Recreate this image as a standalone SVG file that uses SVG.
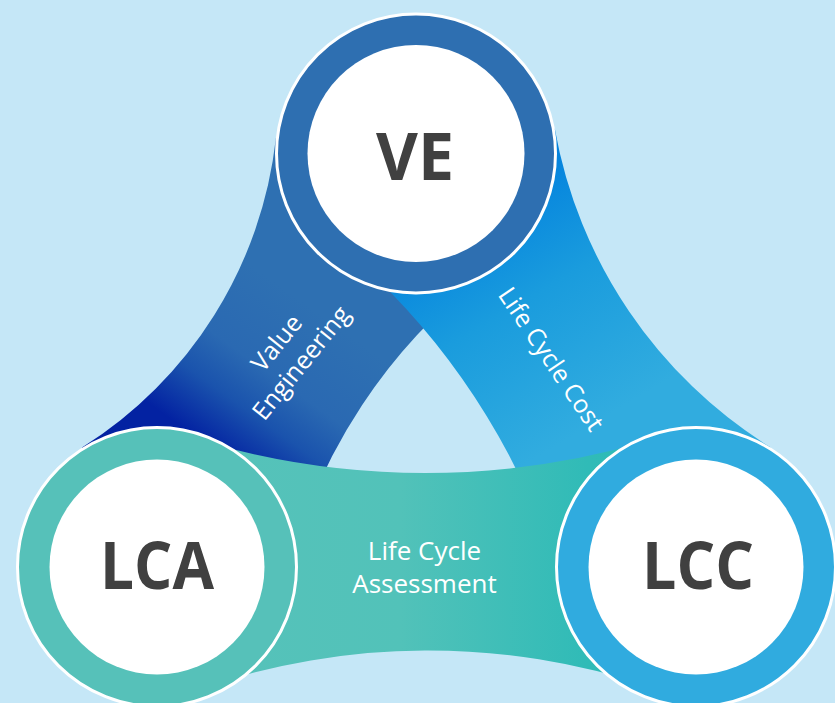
<svg xmlns="http://www.w3.org/2000/svg" width="835" height="703" viewBox="0 0 835 703">
  <defs>
    <!-- band fills -->
    <linearGradient id="grad-ve-lca" gradientUnits="userSpaceOnUse" x1="300" y1="300" x2="200" y2="440">
      <stop offset="0" stop-color="#2e70b2"/>
      <stop offset="0.45" stop-color="#2a69b2"/>
      <stop offset="0.7" stop-color="#1a53ad"/>
      <stop offset="1" stop-color="#0322a2"/>
    </linearGradient>
    <linearGradient id="grad-ve-lcc" gradientUnits="userSpaceOnUse" x1="470" y1="200" x2="600" y2="420">
      <stop offset="0" stop-color="#0382de"/>
      <stop offset="0.45" stop-color="#1a9cdd"/>
      <stop offset="1" stop-color="#31acdf"/>
    </linearGradient>
    <linearGradient id="grad-lca-lcc" gradientUnits="userSpaceOnUse" x1="157" y1="0" x2="696" y2="0">
      <stop offset="0" stop-color="#57c2ba"/>
      <stop offset="0.45" stop-color="#52c2b9"/>
      <stop offset="0.8" stop-color="#30bbb7"/>
      <stop offset="1" stop-color="#2db9b6"/>
    </linearGradient>
    <style>
      .ring { stroke: #ffffff; stroke-width: 3; }
      .core { fill: #ffffff; }
      .node-label { font-family: "Open Sans", "Noto Sans", "Liberation Sans", sans-serif; font-weight: 700; font-size: 67px; fill: #404040; text-anchor: middle; }
      .band-label { font-family: "Open Sans", "Noto Sans", "Liberation Sans", sans-serif; font-weight: 400; font-size: 25px; fill: #ffffff; text-anchor: middle; }
    </style>
  </defs>

  <rect x="0" y="0" width="835" height="703" fill="#c5e7f7"/>

  <!-- connecting bands between the three circles -->
  <g id="connectors">
    <g id="band-ve-lca">
      <path d="M 275.9 138.1 A 420 420 0 0 1 82 447.6 L 157 567 L 289.4 566.6 A 550 550 0 0 1 482.1 275.3 L 416 153.5 Z" fill="url(#grad-ve-lca)"/>
      <g transform="translate(289.5 353.5) rotate(-51)">
        <text class="band-label" x="0" y="-8">Value</text>
        <text class="band-label" x="0" y="23.5">Engineering</text>
      </g>
    </g>
    <g id="band-ve-lcc">
      <path d="M 554.8 128.8 A 473 473 0 0 0 770.5 447.3 L 696 567 L 560.1 579 A 709 709 0 0 0 374.7 276.5 L 416 153.5 Z" fill="url(#grad-ve-lcc)"/>
      <text class="band-label" transform="translate(544 364) rotate(56)" x="0" y="0">Life Cycle Cost</text>
    </g>
    <g id="band-lca-lcc">
      <path d="M 200 440.3 A 790 790 0 0 0 650 440.3 L 696 567 L 650 686.6 A 700 700 0 0 0 200 688.7 L 157 567 Z" fill="url(#grad-lca-lcc)"/>
      <text class="band-label" font-size="26" style="font-size:26px" x="424.5" y="560">Life Cycle</text>
      <text class="band-label" style="font-size:26px" x="424.5" y="593.3">Assessment</text>
    </g>
  </g>

  <!-- nodes -->
  <g id="node-ve">
    <circle class="ring" cx="416" cy="153.5" r="139.5" fill="#2e6fb1"/>
    <circle class="core" cx="416" cy="153.5" r="108.5"/>
    <text class="node-label" x="415" y="180" textLength="78" lengthAdjust="spacingAndGlyphs">VE</text>
  </g>
  <g id="node-lca">
    <circle class="ring" cx="157" cy="567" r="139.5" fill="#56c1b9"/>
    <circle class="core" cx="157" cy="567" r="107.5"/>
    <text class="node-label" x="157" y="589" textLength="114" lengthAdjust="spacingAndGlyphs">LCA</text>
  </g>
  <g id="node-lcc">
    <circle class="ring" cx="696" cy="567" r="139.5" fill="#30abdf"/>
    <circle class="core" cx="696" cy="567" r="107.5"/>
    <text class="node-label" x="698" y="589" textLength="112" lengthAdjust="spacingAndGlyphs">LCC</text>
  </g>
</svg>
